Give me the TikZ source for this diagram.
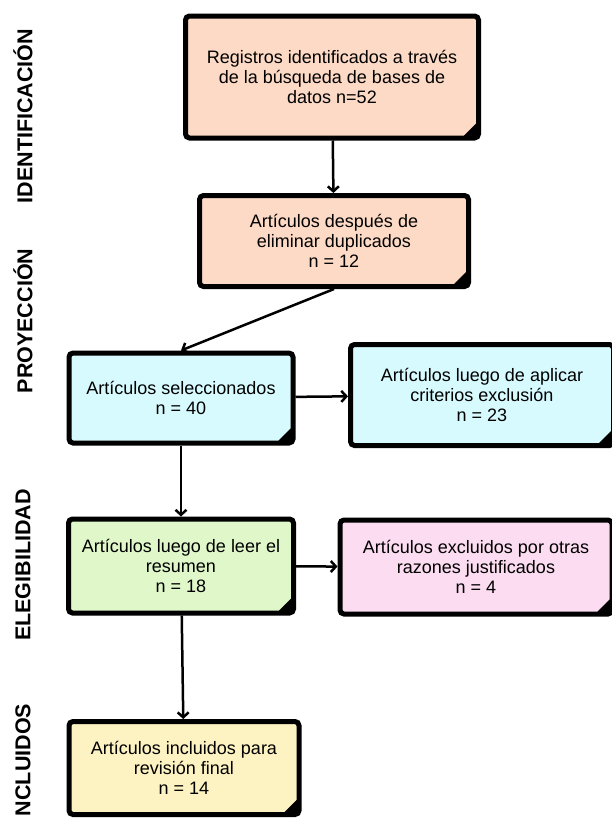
\documentclass[tikz,border=0pt]{standalone}
\usepackage{fontspec}
\setmainfont{Liberation Sans}
\usepackage{tikz}
\usetikzlibrary{arrows.meta}

\definecolor{peach}{HTML}{FDDAC5}
\definecolor{skyc}{HTML}{D6FAFD}
\definecolor{lime}{HTML}{E0F8C9}
\definecolor{rosa}{HTML}{FBDCF1}
\definecolor{crema}{HTML}{FDF2C1}

\begin{document}
\begin{tikzpicture}[x=1pt,y=-1pt,->,>={Straight Barb[length=5pt,width=11pt]},line width=2.5pt,
    box node/.style={rectangle,draw,line width=5pt,rounded corners=4pt,align=center,
      font=\fontsize{18}{20}\selectfont,inner sep=2pt,
      path picture={\fill[black] ([xshift=-17pt]path picture bounding box.south east)
        -- (path picture bounding box.south east)
        -- ([yshift=17pt]path picture bounding box.south east) -- cycle;}},
    stage node/.style={rotate=90,font=\fontsize{21.5}{24}\selectfont\bfseries}]

  \useasboundingbox (0,0) rectangle (611,820);

  % fases
  \node[stage node] (iden) at (23,116) {IDENTIFICACIÓN};
  \node[stage node] (proy) at (23,321) {PROYECCIÓN};
  \node[stage node] (eleg) at (23,565) {ELEGIBILIDAD};
  \node[stage node] (incl) at (23,760) {NCLUIDOS};

  % cajas
  \node[box node,fill=peach,minimum width=293pt,minimum height=122pt] (reg) at (332,77)
    {Registros identificados a través\\de la búsqueda de bases de\\datos n=52};
  \node[box node,fill=peach,minimum width=269pt,minimum height=91pt] (dup) at (334,241)
    {Artículos después de\\eliminar duplicados\\n = 12};
  \node[box node,fill=skyc,minimum width=224pt,minimum height=90pt] (sel) at (181,398)
    {Artículos seleccionados\\n = 40};
  \node[box node,fill=skyc,minimum width=263pt,minimum height=101pt] (excl) at (482,395)
    {Artículos luego de aplicar\\criterios exclusión\\n = 23};
  \node[box node,fill=lime,minimum width=225pt,minimum height=94pt] (res) at (181,566)
    {Artículos luego de leer el\\resumen\\n = 18};
  \node[box node,fill=rosa,minimum width=272pt,minimum height=94pt] (otr) at (476,567)
    {Artículos excluidos por otras\\razones justificados\\n = 4};
  \node[box node,fill=crema,minimum width=230pt,minimum height=93pt] (fin) at (184,768)
    {Artículos incluidos para\\revisión final\\n = 14};

  \path (reg) edge (dup)
        (dup.south) edge (sel.north)
        (sel) edge (excl)
        (sel) edge (res)
        (res) edge (otr)
        (res) edge (fin);

\end{tikzpicture}
\end{document}
